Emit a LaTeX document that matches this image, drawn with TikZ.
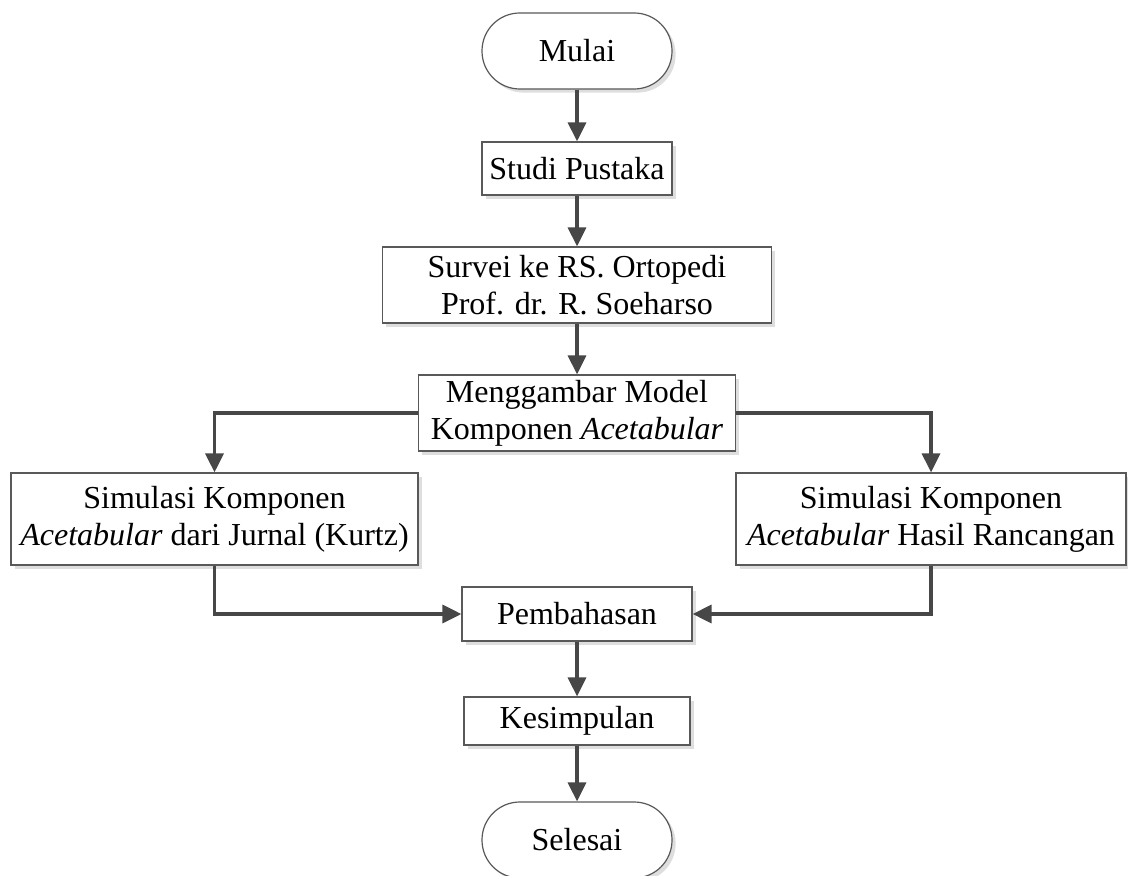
\documentclass[tikz,border=0pt]{standalone}
\usepackage{fontspec}
\setmainfont{Liberation Serif}
\usetikzlibrary{arrows.meta,shadows}
\begin{document}
\begin{tikzpicture}[x=0.5pt,y=-0.5pt,
  every node/.style={font=\fontsize{16}{18.5}\selectfont, align=center, inner sep=0pt, text=black},
  box/.style={draw=black!65, line width=0.6pt, fill=white,
    drop shadow={shadow xshift=1.8pt, shadow yshift=-1.8pt, fill=black!13, opacity=1}},
  term/.style={box, rounded corners=18.9pt},
  conn/.style={draw=black!72, line width=1.6pt, -{Triangle[length=9.5pt,width=9pt]}}
]
\useasboundingbox (0,0) rectangle (1128,876);
\node[term, minimum width=95pt, minimum height=38pt] (mulai) at (577,51) {Mulai};
\node[box, minimum width=95pt, minimum height=26.5pt] (studi) at (577,168.5) {Studi Pustaka};
\node[box, minimum width=194.5pt, minimum height=38pt] (survei) at (577,285) {Survei ke RS. Ortopedi\\Prof. dr. R. Soeharso};
\node[box, minimum width=158.5pt, minimum height=38pt] (gambar) at (577,413) {Menggambar Model\\Komponen \textit{Acetabular}};
\node[box, minimum width=203.5pt, minimum height=46pt] (kiri) at (214.5,519) {Simulasi Komponen\\\textit{Acetabular} dari Jurnal (Kurtz)};
\node[box, minimum width=195pt, minimum height=46pt] (kanan) at (931,519) {Simulasi Komponen\\\textit{Acetabular} Hasil Rancangan};
\node[box, minimum width=115pt, minimum height=27pt] (bahas) at (577,614) {Pembahasan};
\node[box, minimum width=113pt, minimum height=24pt] (simpul) at (577,721) {Kesimpulan};
\node[term, minimum width=95pt, minimum height=38pt] (selesai) at (577,840) {Selesai};

\draw[conn] (mulai) -- (studi);
\draw[conn] (studi) -- (survei);
\draw[conn] (survei) -- (gambar);
\draw[conn] (gambar.west) -| (kiri.north);
\draw[conn] (gambar.east) -| (kanan.north);
\draw[conn] (kiri.south) |- (bahas.west);
\draw[conn] (kanan.south) |- (bahas.east);
\draw[conn] (bahas) -- (simpul);
\draw[conn] (simpul) -- (selesai);
\end{tikzpicture}
\end{document}
